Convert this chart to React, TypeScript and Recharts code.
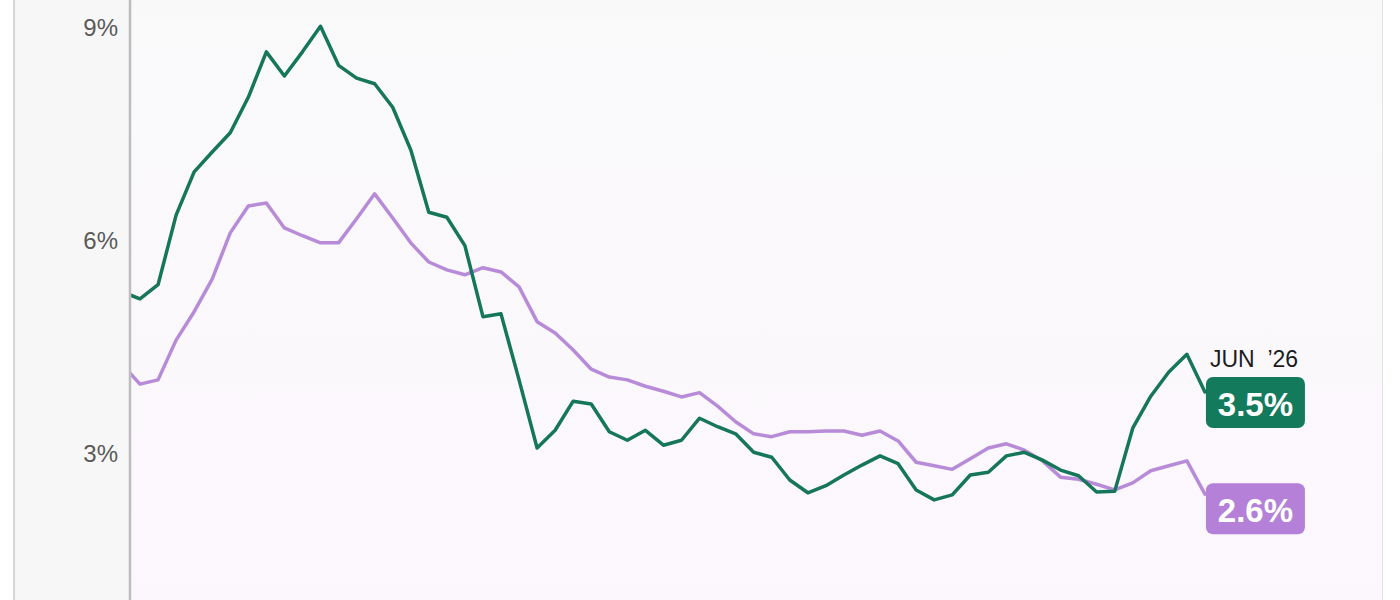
import React from 'react';
import { LineChart, Line, XAxis, YAxis } from 'recharts';

const months = [
  'Jun ’21', 'Jul ’21', 'Aug ’21', 'Sep ’21', 'Oct ’21', 'Nov ’21', 'Dec ’21',
  'Jan ’22', 'Feb ’22', 'Mar ’22', 'Apr ’22', 'May ’22', 'Jun ’22', 'Jul ’22', 'Aug ’22', 'Sep ’22', 'Oct ’22', 'Nov ’22', 'Dec ’22',
  'Jan ’23', 'Feb ’23', 'Mar ’23', 'Apr ’23', 'May ’23', 'Jun ’23', 'Jul ’23', 'Aug ’23', 'Sep ’23', 'Oct ’23', 'Nov ’23', 'Dec ’23',
  'Jan ’24', 'Feb ’24', 'Mar ’24', 'Apr ’24', 'May ’24', 'Jun ’24', 'Jul ’24', 'Aug ’24', 'Sep ’24', 'Oct ’24', 'Nov ’24', 'Dec ’24',
  'Jan ’25', 'Feb ’25', 'Mar ’25', 'Apr ’25', 'May ’25', 'Jun ’25', 'Jul ’25', 'Aug ’25', 'Sep ’25', 'Oct ’25', 'Nov ’25', 'Dec ’25',
  'Jan ’26', 'Feb ’26', 'Mar ’26', 'Apr ’26', 'May ’26', 'Jun ’26',
];

const greenSeries = [
  5.27, 5.17, 5.37, 6.35, 6.96, 7.24, 7.51, 8.01, 8.65, 8.31, 8.65, 9.01, 8.46, 8.28, 8.2, 7.87,
  7.27, 6.39, 6.32, 5.92, 4.92, 4.96, 4.03, 3.07, 3.32, 3.73, 3.69, 3.3, 3.18, 3.32, 3.11, 3.18,
  3.49, 3.37, 3.27, 3.01, 2.94, 2.62, 2.44, 2.54, 2.69, 2.83, 2.96, 2.85, 2.48, 2.34, 2.41, 2.69,
  2.73, 2.96, 3.01, 2.9, 2.76, 2.68, 2.45, 2.46, 3.35, 3.8, 4.14, 4.39, 3.86,
];

const purpleSeries = [
  4.25, 3.97, 4.03, 4.59, 4.99, 5.45, 6.1, 6.48, 6.52, 6.17, 6.06, 5.96, 5.96, 6.3, 6.65, 6.31,
  5.96, 5.69, 5.58, 5.51, 5.61, 5.55, 5.34, 4.85, 4.69, 4.45, 4.18, 4.07, 4.03, 3.94, 3.87, 3.79,
  3.85, 3.66, 3.44, 3.27, 3.23, 3.3, 3.3, 3.31, 3.31, 3.25, 3.31, 3.17, 2.87, 2.82, 2.77, 2.92,
  3.07, 3.13, 3.04, 2.89, 2.66, 2.63, 2.56, 2.48, 2.58, 2.75, 2.82, 2.89, 2.42,
];

const yTicks = [3, 6, 9];
const latestMonthLabel = 'JUN\u00a0\u00a0’26';
const latestGreenLabel = '3.5%';
const latestPurpleLabel = '2.6%';

const GREEN = '#15765a';
const GREEN_BOX = '#137a5c';
const PURPLE = '#b78bd8';
const PURPLE_BOX = '#b581d8';
const FONT = '"Liberation Sans", Arial, Helvetica, sans-serif';

const data = months.map((m, i) => ({
  idx: i - 1,
  month: m,
  green: greenSeries[i],
  purple: purpleSeries[i],
}));

const lastIndex = data.length - 1;

function makeEndLabel(text: string, fill: string, boxDy: number, showMonth: boolean) {
  return (props: any) => {
    const { x, y, index } = props;
    if (index !== lastIndex) return null;
    const bx = x + 1;
    const by = y + boxDy;
    return (
      <g>
        {showMonth && (
          <text x={bx + 4} y={by - 10} fontFamily={FONT} fontSize={23} fill="#1c1c1c">
            {latestMonthLabel}
          </text>
        )}
        <rect x={bx} y={by} width={99} height={51} rx={7} ry={7} fill={fill} />
        <text
          x={bx + 49.5}
          y={by + 39}
          textAnchor="middle"
          fontFamily={FONT}
          fontSize={33}
          fontWeight={700}
          fill="#ffffff"
        >
          {text}
        </text>
      </g>
    );
  };
}

export default function App() {
  return (
    <div style={{ position: 'relative', width: 1400, height: 600, overflow: 'hidden', background: '#ffffff' }}>
      <style>{'body{margin:0;}'}</style>
      <div
        style={{
          position: 'absolute',
          left: 13,
          top: 0,
          width: 117,
          height: 600,
          background: '#f7f7f7',
          borderLeft: '2px solid #d6d6d6',
          boxSizing: 'border-box',
        }}
      />
      <div
        style={{
          position: 'absolute',
          left: 130,
          top: 0,
          width: 1252,
          height: 600,
          background: 'linear-gradient(to bottom, #f9f9fa 0%, #fbf8fc 60%, #fcf7fd 100%)',
          borderRight: '1px solid #e4e4e4',
        }}
      />
      <div style={{ position: 'absolute', left: 0, top: 0 }}>
        <LineChart width={1400} height={600} data={data} margin={{ top: 0, right: 18, bottom: 0, left: 0 }}>
          <XAxis
            dataKey="idx"
            type="number"
            domain={[-0.554, 68.81]}
            allowDataOverflow
            hide
          />
          <YAxis
            type="number"
            domain={[0.93, 9.38]}
            allowDataOverflow
            ticks={yTicks}
            width={130}
            tickFormatter={(v: number) => `${v}%`}
            tick={{ fontSize: 24, fill: '#5a5a5a', fontFamily: FONT }}
            tickLine={false}
            tickSize={6}
            tickMargin={6}
            axisLine={{ stroke: '#bdbdbd', strokeWidth: 2.5 }}
          />
          <Line
            type="linear"
            dataKey="purple"
            stroke={PURPLE}
            strokeWidth={3.5}
            strokeLinejoin="round"
            strokeLinecap="round"
            dot={false}
            isAnimationActive={false}
            label={makeEndLabel(latestPurpleLabel, PURPLE_BOX, -11, false)}
          />
          <Line
            type="linear"
            dataKey="green"
            stroke={GREEN}
            strokeWidth={3.5}
            strokeLinejoin="round"
            strokeLinecap="round"
            dot={false}
            isAnimationActive={false}
            label={makeEndLabel(latestGreenLabel, GREEN_BOX, -15, true)}
          />
        </LineChart>
      </div>
    </div>
  );
}
